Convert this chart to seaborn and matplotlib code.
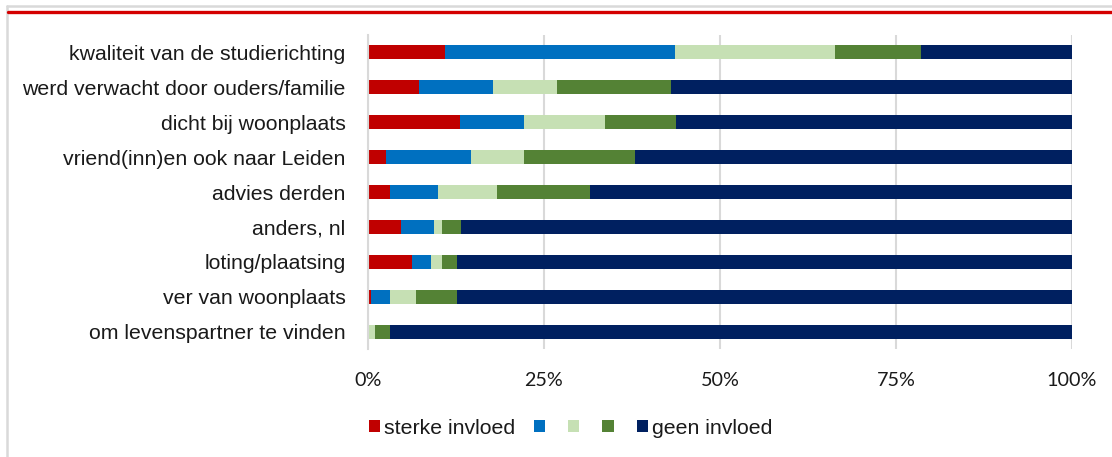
import matplotlib
matplotlib.use("Agg")
import matplotlib.pyplot as plt
from matplotlib.lines import Line2D
from matplotlib.patches import Patch
import numpy as np
import pandas as pd
import seaborn as sns

categories = [
    "kwaliteit van de studierichting",
    "werd verwacht door ouders/familie",
    "dicht bij woonplaats",
    "vriend(inn)en ook naar Leiden",
    "advies derden",
    "anders, nl",
    "loting/plaatsing",
    "ver van woonplaats",
    "om levenspartner te vinden",
]
sterke = [10.9, 7.3, 13.1, 2.6, 3.1, 4.7, 6.2, 0.5, 0.0]
level2 = [32.7, 10.5, 9.0, 12.0, 6.8, 4.7, 2.7, 2.6, 0.0]
level3 = [22.7, 9.0, 11.6, 7.5, 8.5, 1.1, 1.6, 3.7, 1.0]
level4 = [12.2, 16.3, 10.0, 15.8, 13.2, 2.7, 2.1, 5.8, 2.1]
geen = [21.5, 56.9, 56.3, 62.1, 68.4, 86.8, 87.4, 87.4, 96.9]

series_labels = ["sterke invloed", "", "", "", "geen invloed"]
colors = ["#C00000", "#0070C0", "#C6E0B4", "#548235", "#002060"]
xtick_values = [0, 25, 50, 75, 100]
xtick_labels = ["0%", "25%", "50%", "75%", "100%"]

sns.set_style("white")
plt.rcParams["font.family"] = ["Liberation Sans", "DejaVu Sans"]

fig = plt.figure(figsize=(11.12, 4.57), dpi=100)
ax = fig.add_axes([0.3309, 0.2363, 0.6331, 0.6871])

series = [sterke, level2, level3, level4, geen]
vals = np.array(series, dtype=float)
totals = vals.sum(axis=0)
pct = vals / totals * 100
cum = np.cumsum(pct, axis=0)

# draw from the largest cumulative down so segments appear stacked
for i in range(len(series) - 1, -1, -1):
    df = pd.DataFrame({"cat": categories, "val": cum[i]})
    sns.barplot(data=df, x="val", y="cat", orient="h", color=colors[i],
                saturation=1, width=0.4, linewidth=0, ax=ax, errorbar=None)

ax.set_xlim(0, 100)
ax.set_ylim(8.5, -0.5)
ax.set_xlabel("")
ax.set_ylabel("")
ax.set_xticks(xtick_values)
ax.set_xticklabels(xtick_labels, fontfamily="Lato", fontsize=14.2)
ax.tick_params(axis="x", length=0, pad=16.5)
ax.tick_params(axis="y", length=0, pad=16, labelsize=15.3)
for lab in ax.get_yticklabels():
    lab.set_color("#1a1a1a")
for lab in ax.get_xticklabels():
    lab.set_color("#1a1a1a")

ax.grid(axis="x", color="#D9D9D9", linewidth=1.5)
ax.grid(axis="y", visible=False)
ax.set_axisbelow(True)
for s in ["top", "right", "bottom"]:
    ax.spines[s].set_visible(False)
ax.spines["left"].set_color("#D9D9D9")
ax.spines["left"].set_linewidth(1.5)

handles = [Patch(facecolor=c, edgecolor="none") for c in colors]
fig.legend(handles, series_labels, loc="center", bbox_to_anchor=(0.513, 0.063),
           ncol=5, frameon=False, fontsize=15.3, handlelength=0.52, handleheight=0.52,
           handletextpad=0.19, columnspacing=0.9, labelcolor="#1a1a1a")

# outer frame and red header line
fig.add_artist(Line2D([6.5 / 1112, 6.5 / 1112], [1 - 5.5 / 457, 0], color="#D9D9D9",
                      linewidth=1.8, transform=fig.transFigure))
fig.add_artist(Line2D([6.5 / 1112, 1], [1 - 5.5 / 457, 1 - 5.5 / 457], color="#D9D9D9",
                      linewidth=1.8, transform=fig.transFigure))
fig.add_artist(Line2D([7.5 / 1112, 1], [1 - 11.5 / 457, 1 - 11.5 / 457], color="#D40000",
                      linewidth=2.4, transform=fig.transFigure))

fig.savefig("out.png", dpi=100)
